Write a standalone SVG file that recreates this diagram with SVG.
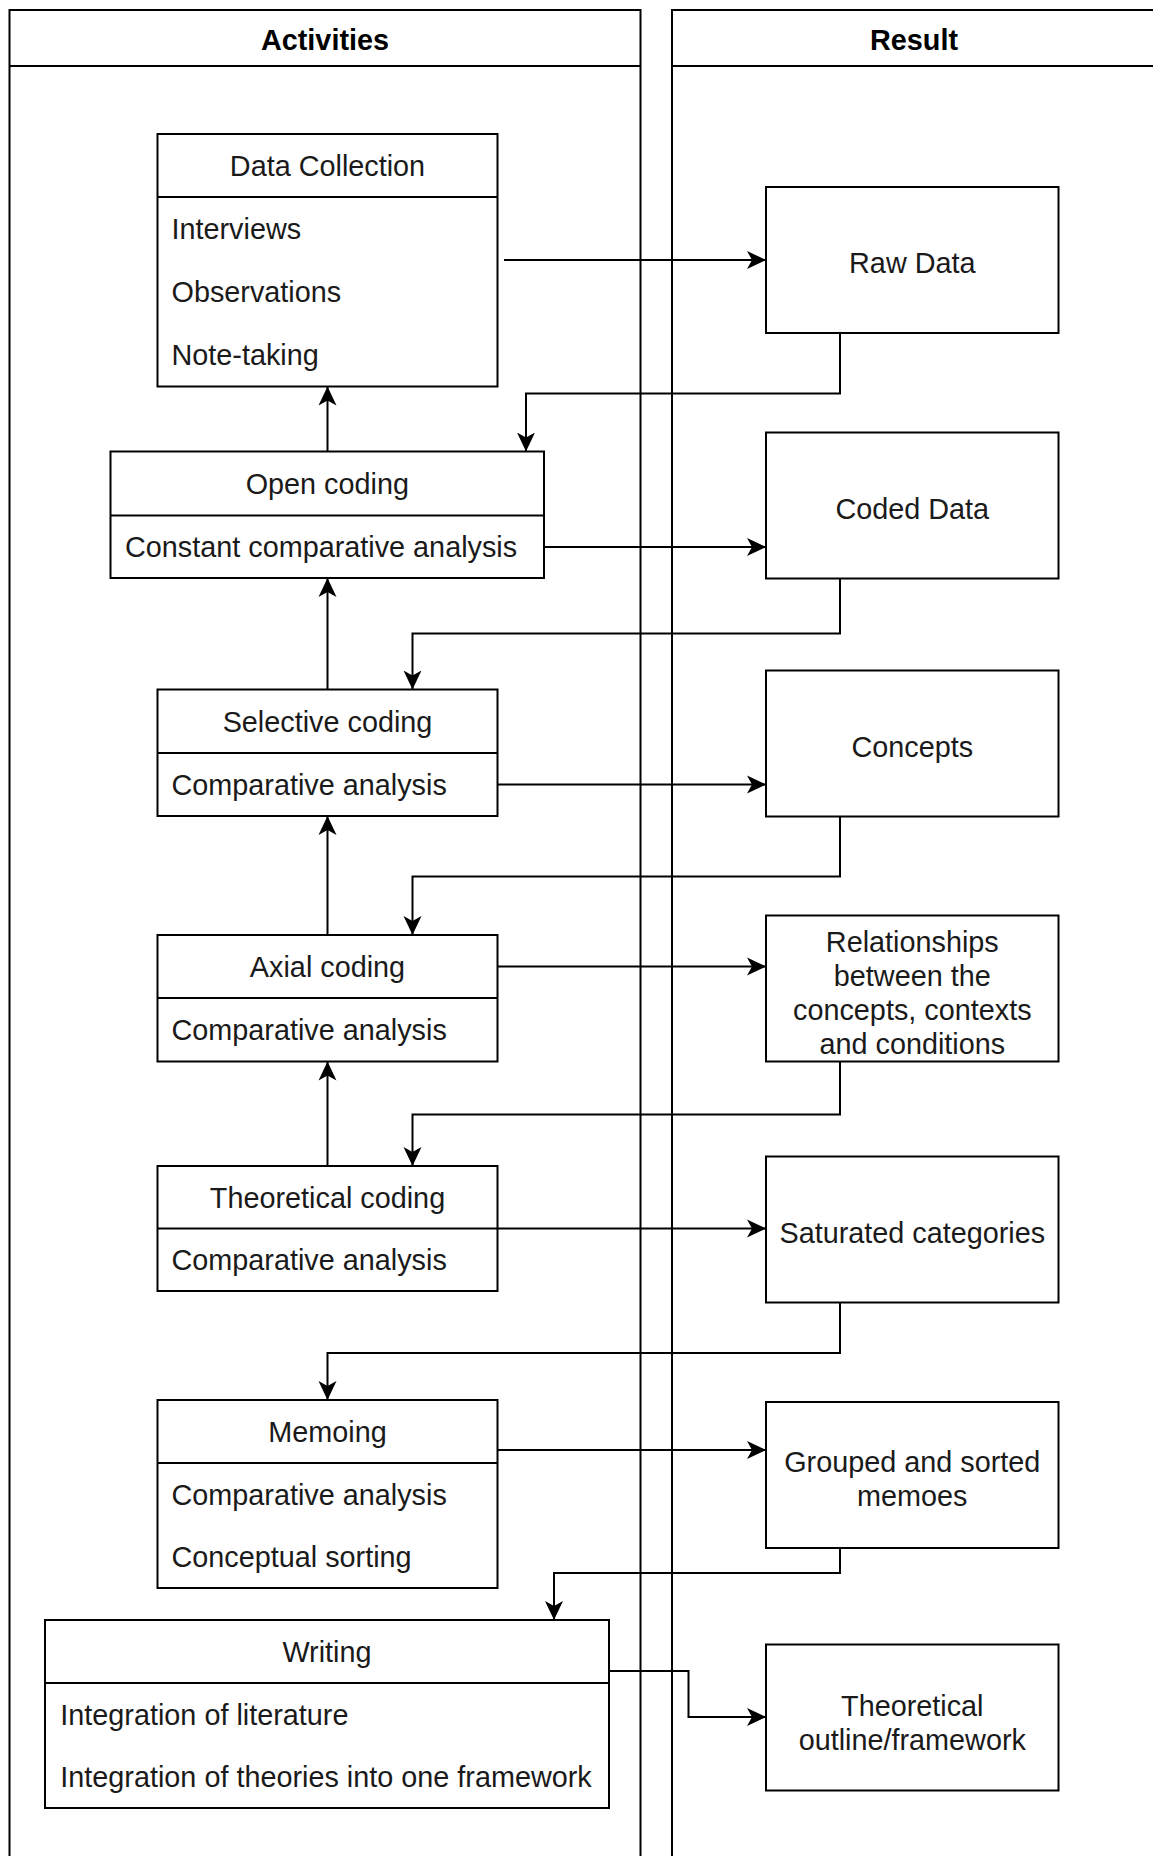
<svg xmlns="http://www.w3.org/2000/svg" width="1153" height="1856" viewBox="0 0 1153 1856">
  <style>
    .box { fill: #ffffff; stroke: #000000; stroke-width: 2; }
    .pool { fill: none; stroke: #000000; stroke-width: 2; }
    .sep { stroke: #000000; stroke-width: 2; fill: none; }
    .edge { fill: none; stroke: #000000; stroke-width: 2; marker-end: url(#arrow); }
    text { font-family: "Liberation Sans", Arial, Helvetica, sans-serif; font-size: 28.8px; fill: #1a1a1a; }
    .title { font-weight: bold; fill: #000000; }
    .c { text-anchor: middle; }
  </style>
  <defs>
    <marker id="arrow" markerUnits="userSpaceOnUse" markerWidth="20" markerHeight="20" viewBox="0 0 20 18" refX="19" refY="9" orient="auto">
      <path d="M0,0 L19,9 L0,18 L5,9 Z" fill="#000000"/>
    </marker>
  </defs>

  <rect width="1153" height="1856" fill="#ffffff"/>

  <!-- swimlanes -->
  <g id="lane-activities">
    <rect class="pool" x="9.5" y="10" width="631" height="1900"/>
    <line class="sep" x1="9.5" y1="66" x2="640.5" y2="66"/>
    <text class="title c" x="325" y="50">Activities</text>
  </g>
  <g id="lane-result">
    <rect class="pool" x="672" y="10" width="490" height="1900"/>
    <line class="sep" x1="672" y1="66" x2="1162" y2="66"/>
    <text class="title c" x="914" y="50">Result</text>
  </g>

  <!-- activity nodes -->
  <g id="data-collection">
    <rect class="box" x="157.5" y="134" width="340" height="252.5"/>
    <line class="sep" x1="157.5" y1="197" x2="497.5" y2="197"/>
    <text class="c" x="327.5" y="176">Data Collection</text>
    <text x="171.5" y="239">Interviews</text>
    <text x="171.5" y="301.7">Observations</text>
    <text x="171.5" y="365">Note-taking</text>
  </g>
  <g id="open-coding">
    <rect class="box" x="110.5" y="451.5" width="433.5" height="126.5"/>
    <line class="sep" x1="110.5" y1="515.5" x2="544" y2="515.5"/>
    <text class="c" x="327.3" y="494">Open coding</text>
    <text x="125" y="557">Constant comparative analysis</text>
  </g>
  <g id="selective-coding">
    <rect class="box" x="157.5" y="689.5" width="340" height="126.5"/>
    <line class="sep" x1="157.5" y1="753" x2="497.5" y2="753"/>
    <text class="c" x="327.5" y="731.7">Selective coding</text>
    <text x="171.5" y="795">Comparative analysis</text>
  </g>
  <g id="axial-coding">
    <rect class="box" x="157.5" y="935" width="340" height="126.5"/>
    <line class="sep" x1="157.5" y1="998" x2="497.5" y2="998"/>
    <text class="c" x="327.5" y="977">Axial coding</text>
    <text x="171.5" y="1040">Comparative analysis</text>
  </g>
  <g id="theoretical-coding">
    <rect class="box" x="157.5" y="1166" width="340" height="125"/>
    <line class="sep" x1="157.5" y1="1228.5" x2="497.5" y2="1228.5"/>
    <text class="c" x="327.5" y="1207.5">Theoretical coding</text>
    <text x="171.5" y="1270">Comparative analysis</text>
  </g>
  <g id="memoing">
    <rect class="box" x="157.5" y="1400" width="340" height="188"/>
    <line class="sep" x1="157.5" y1="1463" x2="497.5" y2="1463"/>
    <text class="c" x="327.5" y="1442">Memoing</text>
    <text x="171.5" y="1504.8">Comparative analysis</text>
    <text x="171.5" y="1567.3">Conceptual sorting</text>
  </g>
  <g id="writing">
    <rect class="box" x="45" y="1620" width="564" height="188"/>
    <line class="sep" x1="45" y1="1683" x2="609" y2="1683"/>
    <text class="c" x="327" y="1662">Writing</text>
    <text x="60.3" y="1724.8">Integration of literature</text>
    <text x="60.3" y="1787.3">Integration of theories into one framework</text>
  </g>

  <!-- result nodes -->
  <g id="raw-data">
    <rect class="box" x="766" y="187" width="292.5" height="146"/>
    <text class="c" x="912.3" y="273">Raw Data</text>
  </g>
  <g id="coded-data">
    <rect class="box" x="766" y="432.5" width="292.5" height="146"/>
    <text class="c" x="912.3" y="518.5">Coded Data</text>
  </g>
  <g id="concepts">
    <rect class="box" x="766" y="670.5" width="292.5" height="146"/>
    <text class="c" x="912.3" y="756.5">Concepts</text>
  </g>
  <g id="relationships">
    <rect class="box" x="766" y="915.5" width="292.5" height="146"/>
    <text class="c" x="912.3" y="952">Relationships</text>
    <text class="c" x="912.3" y="986">between the</text>
    <text class="c" x="912.3" y="1020">concepts, contexts</text>
    <text class="c" x="912.3" y="1054">and conditions</text>
  </g>
  <g id="saturated-categories">
    <rect class="box" x="766" y="1156.5" width="292.5" height="146"/>
    <text class="c" x="912.3" y="1243">Saturated categories</text>
  </g>
  <g id="grouped-memoes">
    <rect class="box" x="766" y="1402" width="292.5" height="146"/>
    <text class="c" x="912.3" y="1472">Grouped and sorted</text>
    <text class="c" x="912.3" y="1506">memoes</text>
  </g>
  <g id="theoretical-outline">
    <rect class="box" x="766" y="1644.5" width="292.5" height="146"/>
    <text class="c" x="912.3" y="1715.5">Theoretical</text>
    <text class="c" x="912.3" y="1749.5">outline/framework</text>
  </g>

  <!-- connectors -->
  <g id="connectors">
    <path class="edge" d="M504,260 H766"/>
    <path class="edge" d="M840,333 V393.5 H526 V451.5"/>
    <path class="edge" d="M327.5,451.5 V386.5"/>
    <path class="edge" d="M544,547 H766"/>
    <path class="edge" d="M840,578.5 V633.5 H412.5 V689.5"/>
    <path class="edge" d="M327.5,689.5 V578"/>
    <path class="edge" d="M497.5,784.5 H766"/>
    <path class="edge" d="M840,816.5 V876.5 H412.5 V935"/>
    <path class="edge" d="M327.5,935 V816"/>
    <path class="edge" d="M497.5,966.5 H766"/>
    <path class="edge" d="M840,1061.5 V1114.5 H412.5 V1166"/>
    <path class="edge" d="M327.5,1166 V1061.5"/>
    <path class="edge" d="M497.5,1228.5 H766"/>
    <path class="edge" d="M840,1302.5 V1353 H327.5 V1400"/>
    <path class="edge" d="M497.5,1450 H766"/>
    <path class="edge" d="M840,1548 V1573 H554 V1620"/>
    <path class="edge" d="M609,1671 H688.5 V1717 H766"/>
  </g>
</svg>
